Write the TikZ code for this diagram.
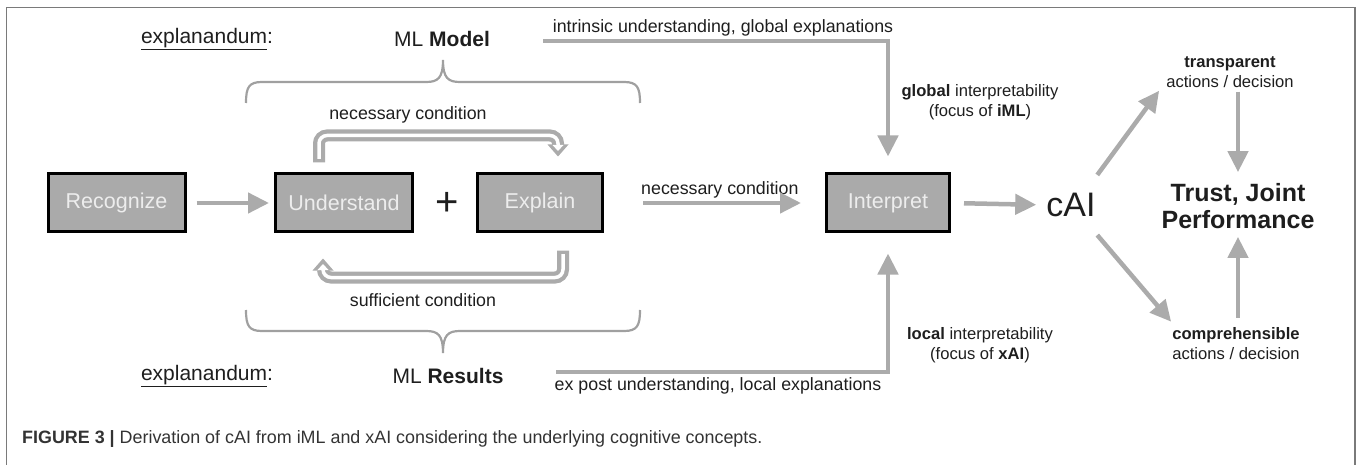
\documentclass[tikz,border=0pt]{standalone}
\usepackage{fontspec}
\setmainfont{Liberation Sans}
\usetikzlibrary{arrows.meta,calc}
\definecolor{arr}{HTML}{ABABAB}
\definecolor{brc}{HTML}{A0A0A0}
\definecolor{boxfill}{HTML}{AAAAAA}
\definecolor{txt}{HTML}{1E1E1E}
\definecolor{captxt}{HTML}{333333}
\definecolor{framec}{HTML}{7A7A7A}
\begin{document}
\begin{tikzpicture}[x=1pt,y=-1pt,
  box/.style={draw=black, line width=3pt, fill=boxfill, text=white!93!black, inner sep=0pt,
    minimum height=58pt, font=\fontsize{21.5}{24}\selectfont},
  lbl/.style={text=txt, font=\fontsize{17.8}{20}\selectfont, inner sep=0pt, align=center},
  rlbl/.style={text=txt, font=\fontsize{16.6}{20}\selectfont, inner sep=0pt, align=center},
  big/.style={text=txt, font=\fontsize{21}{24}\selectfont, inner sep=0pt},
  bigarrow/.style={draw=arr, line width=4.5pt, -{Triangle[length=21pt, width=20pt]}},
  loopgray/.style={draw=arr, line width=12pt, rounded corners=8pt},
  loopcore/.style={draw=white, line width=3.5pt, rounded corners=8pt},
  bracestyle/.style={draw=brc, line width=2.2pt}
]
\useasboundingbox (0,0) rectangle (1360,465);
% frame
\draw[framec, line width=1.8pt] (6.5,465) -- (6.5,7.5) -- (1355,7.5) -- (1355,465);

% boxes
\node[box, minimum width=137pt] (rec) at (116.5,203) {Recognize};
\node[box, minimum width=137pt] (und) at (344,203) {Understand};
\node[box, minimum width=125pt] (exp) at (540,203) {Explain};
\node[box, minimum width=123pt] (int) at (888,203) {Interpret};
\node[text=txt, inner sep=0pt, font=\fontsize{40}{40}\selectfont] (plus) at (447,204) {+};
\node[text=txt, inner sep=0pt, font=\fontsize{34}{34}\selectfont] (cai) at (1071,205) {cAI};
\node[text=txt, inner sep=0pt, align=center, font=\bfseries\fontsize{25}{27}\selectfont] (trust) at (1238,206) {Trust, Joint\\Performance};

% labels
\node[rlbl] (tra) at (1230,72) {\textbf{transparent}\\actions / decision};
\node[rlbl] (com) at (1236,344) {\textbf{comprehensible}\\actions / decision};
\node[rlbl] (glob) at (980,102) {\textbf{global} interpretability\\(focus of \textbf{iML})};
\node[rlbl] (loc) at (980,345) {\textbf{local} interpretability\\(focus of \textbf{xAI})};
\node[lbl] (intr) at (723,28) {intrinsic understanding, global explanations};
\node[lbl] (expost) at (718,386) {ex post understanding, local explanations};
\node[lbl, anchor=west] (nc) at (641,190) {necessary condition};
\node[lbl] (ncl) at (408,115) {necessary condition};
\node[lbl] (scl) at (423,300) {sufficient condition};

\node[big] (exT) at (207,39) {\underline{explanandum}:};
\node[big] (mlm) at (442,39) {ML \textbf{Model}};
\node[big] (exB) at (207,376) {\underline{explanandum}:};
\node[big] (mlr) at (448,376) {ML \textbf{Results}};

\node[anchor=west, inner sep=0pt, text=captxt, font=\fontsize{17.9}{20}\selectfont] (cap) at (22,439)
  {\textbf{FIGURE 3 |} Derivation of cAI from iML and xAI considering the underlying cognitive concepts.};

% main arrows
\draw[bigarrow, shorten <=10pt, shorten >=5pt] (rec.east) -- (und.west);
\draw[bigarrow, shorten <=39pt, shorten >=24pt] (exp.east) -- (int.west);
\draw[bigarrow, shorten <=13pt, shorten >=10pt] (int.east) -- (cai.west);
\draw[bigarrow] ($(cai.north east)+(1.5,-18)$) -- ($(tra.south west)+(-7,3)$);
\draw[bigarrow] ($(cai.south east)+(1.5,18)$) -- ($(com.north west)+(-1,-6)$);
\draw[bigarrow] ($(tra.south -| trust.north)+(0,4)$) -- ($(trust.north)+(0,-11)$);
\draw[bigarrow] ($(com.north -| trust.south)+(0,-10)$) -- ($(trust.south)+(0,8)$);

% global / local
\coordinate (gstart) at (543,41);
\coordinate (lstart) at (556,372);
\draw[bigarrow, shorten >=16pt] (gstart) -| (int.north);
\draw[bigarrow, shorten >=20pt] (lstart) -| (int.south);

% necessary loop (top): Understand -> Explain
\coordinate (nA) at ($(und.north)+(-25,-10)$);
\coordinate (nC) at ($(exp.north)+(18,-37)$);
\coordinate (nD) at ($(nC)+(0,10)$);
\draw[loopgray] (nA) |- (nC) -- (nD);
\fill[arr] ($(nD)+(-10.5,-1)$) -- ($(nD)+(10.5,-1)$) -- ($(nD)+(0,11)$) -- cycle;
\draw[loopcore] ($(nA)+(0,-3.5)$) |- (nC) -- ($(nD)+(0,0.5)$);
\fill[white] ($(nD)+(-5.5,-0.5)$) -- ($(nD)+(5.5,-0.5)$) -- ($(nD)+(0,5.5)$) -- cycle;

% sufficient loop (bottom): Explain -> Understand
\coordinate (sA) at ($(exp.south)+(23,17)$);
\coordinate (sC) at ($(und.south)+(-21,44)$);
\coordinate (sD) at ($(sC)+(0,-8)$);
\draw[loopgray] (sA) |- (sC) -- (sD);
\fill[arr] ($(sD)+(-10.5,1)$) -- ($(sD)+(10.5,1)$) -- ($(sD)+(0,-11)$) -- cycle;
\draw[loopcore] ($(sA)+(0,3.5)$) |- (sC) -- ($(sD)+(0,-0.5)$);
\fill[white] ($(sD)+(-5.5,0.5)$) -- ($(sD)+(5.5,0.5)$) -- ($(sD)+(0,-5.5)$) -- cycle;

% braces
\draw[bracestyle] (246,103) .. controls (246,87) and (249,82) .. (262,82) -- (426,82)
  .. controls (438,82) and (443,78) .. (443,60)
  .. controls (443,78) and (448,82) .. (460,82) -- (624,82)
  .. controls (637,82) and (640,87) .. (640,103);
\draw[bracestyle] (246,310) .. controls (246,326) and (249,331) .. (262,331) -- (426,331)
  .. controls (438,331) and (443,335) .. (443,353)
  .. controls (443,335) and (448,331) .. (460,331) -- (624,331)
  .. controls (637,331) and (640,326) .. (640,310);
\end{tikzpicture}
\end{document}
